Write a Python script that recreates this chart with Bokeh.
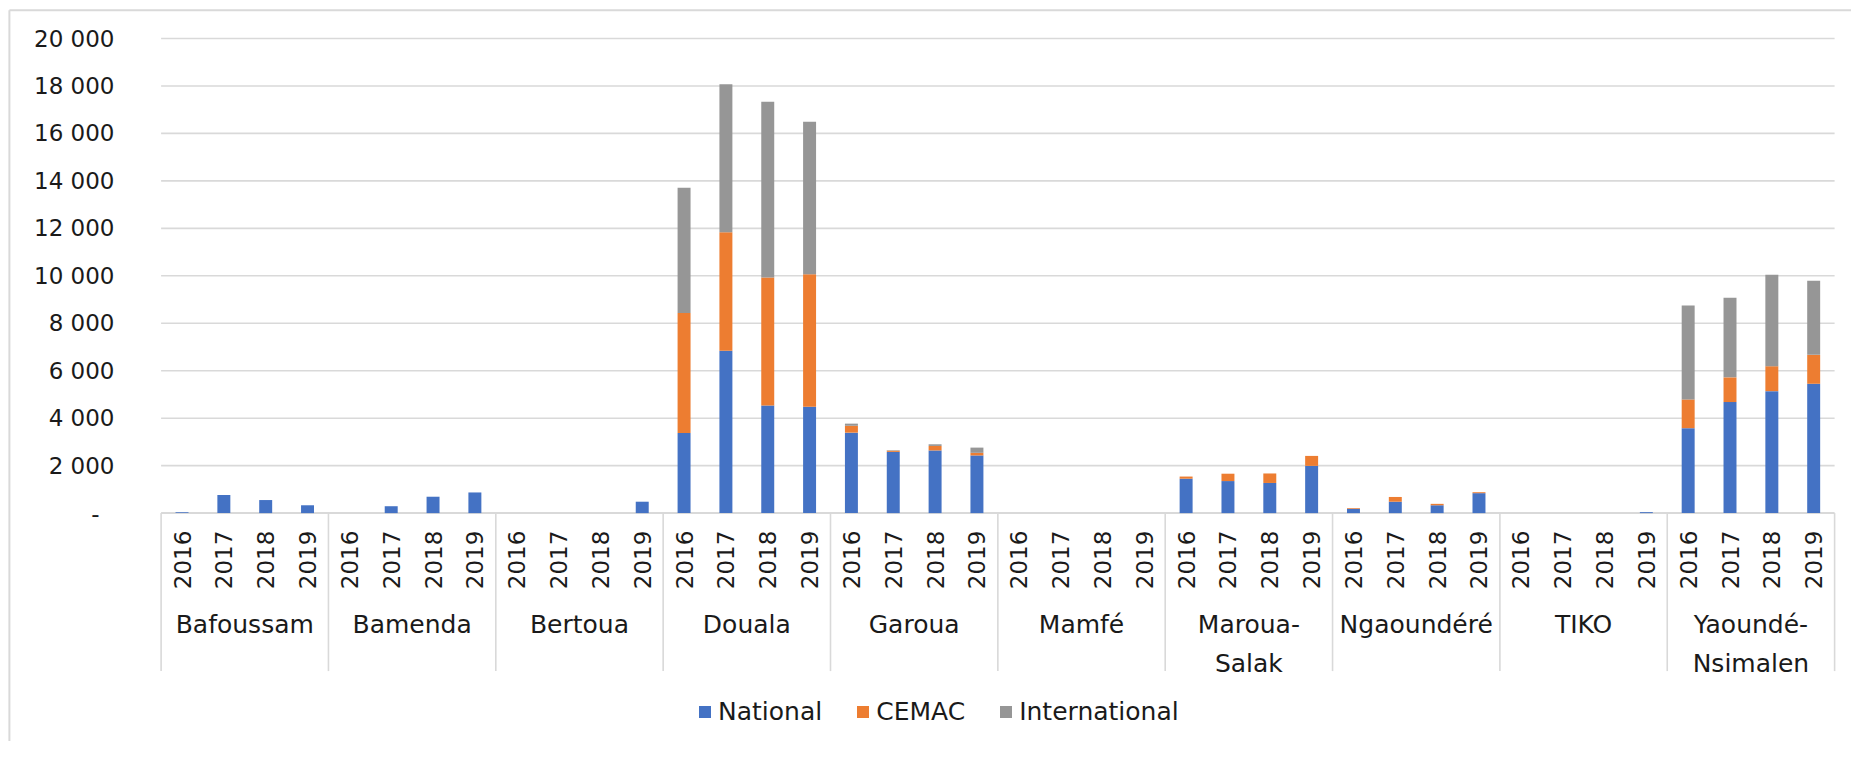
from bokeh.plotting import figure
from bokeh.models import Range1d, ColumnDataSource
from bokeh.core.properties import value
from bokeh.embed import file_html
from bokeh.resources import INLINE

# ---------------- data ----------------
cities = ["Bafoussam", "Bamenda", "Bertoua", "Douala", "Garoua", "Mamfé",
          "Maroua-\nSalak", "Ngaoundéré", "TIKO", "Yaoundé-\nNsimalen"]
years = ["2016", "2017", "2018", "2019"]

national = [40, 760, 550, 330,
            0, 290, 690, 870,
            0, 0, 0, 480,
            3380, 6840, 4530, 4480,
            3390, 2580, 2640, 2430,
            0, 0, 0, 0,
            1450, 1350, 1270, 1990,
            180, 480, 330, 840,
            0, 0, 0, 40,
            3580, 4680, 5140, 5450]
cemac = [0, 0, 0, 0,
         0, 0, 0, 0,
         0, 0, 0, 0,
         5050, 5000, 5400, 5590,
         290, 50, 190, 110,
         0, 0, 0, 0,
         90, 310, 400, 420,
         30, 200, 60, 40,
         0, 0, 0, 0,
         1210, 1040, 1050, 1220]
international = [0, 0, 0, 0,
                 0, 0, 0, 0,
                 0, 0, 0, 0,
                 5280, 6230, 7400, 6420,
                 90, 20, 70, 220,
                 0, 0, 0, 0,
                 0, 0, 0, 0,
                 0, 0, 0, 0,
                 0, 0, 0, 0,
                 3960, 3360, 3850, 3120]
series_names = ["National", "CEMAC", "International"]
y_ticks = [0, 2000, 4000, 6000, 8000, 10000, 12000, 14000, 16000, 18000, 20000]
y_tick_labels = ["-", "2 000", "4 000", "6 000", "8 000", "10 000", "12 000",
                 "14 000", "16 000", "18 000", "20 000"]

# ---------------- layout ----------------
W, H = 1851, 741
FONT = value("DejaVu Sans")
TXT = "#1a1a1a"
GRID = "#d9d9d9"
COLORS = ["#4472C4", "#ED7D31", "#969696"]

n_years = len(years)
n_bars = len(cities) * n_years
y_max = y_ticks[-1]

plot_top, plot_base = 38.0, 512.6        # canvas px of y_max and 0
frame_left, frame_right = 160.6, 1834.1  # canvas px of category span
ppv = (plot_base - plot_top) / y_max
ppu = (frame_right - frame_left) / n_bars

y0_, y1_ = -(H - plot_base) / ppv, plot_base / ppv
x0_, x1_ = -frame_left / ppu, (W - frame_left) / ppu
y_range = Range1d(y0_, y1_)
x_range = Range1d(x0_, x1_)


def px_x(px):
    return x0_ + px / ppu


def px_y(py):
    return y1_ - py / ppv


p = figure(width=W, height=H, x_range=x_range, y_range=y_range,
           x_axis_location=None, y_axis_location=None,
           toolbar_location=None, output_backend="svg",
           min_border=0, min_border_left=0, min_border_right=0,
           min_border_top=0, min_border_bottom=0)
p.background_fill_color = "white"
p.border_fill_color = "white"
p.outline_line_color = None
p.xgrid.visible = False
p.ygrid.visible = False

# chart-area border (left and top edges visible in the crop)
p.segment(x0=[px_x(8.9), px_x(8.9)], y0=[px_y(9.8), px_y(9.8)],
          x1=[px_x(8.9), px_x(W + 5)], y1=[px_y(H + 5), px_y(9.8)],
          line_color=GRID, line_width=2)

# gridlines
grid_src = ColumnDataSource(dict(y=y_ticks[1:]))
p.segment(x0=0, x1=n_bars, y0="y", y1="y", source=grid_src,
          line_color=GRID, line_width=1.6)
# baseline
p.segment(x0=[0], x1=[n_bars], y0=[0], y1=[0], line_color=GRID, line_width=2)

# group separators
sep_len = 158 / ppv
sep_x = [i * n_years for i in range(len(cities) + 1)]
p.segment(x0=sep_x, x1=sep_x, y0=0, y1=-sep_len, line_color=GRID, line_width=1.6)

# bars
xs = [i + 0.5 for i in range(n_bars)]
src = ColumnDataSource(dict(x=xs, National=national, CEMAC=cemac,
                            International=international))
p.vbar_stack(series_names, x="x", width=0.31, color=COLORS, line_color=None,
             source=src, legend_label=series_names)

# y tick labels
ysrc = ColumnDataSource(dict(y=y_ticks, t=y_tick_labels,
                             xo=[-61.5] + [-46.6] * (len(y_ticks) - 1)))
p.text(x=0, y="y", text="t", x_offset="xo", source=ysrc, text_font=FONT,
       text_font_size="23px", text_color=TXT, text_align="right",
       text_baseline="middle")

# year labels
yr_src = ColumnDataSource(dict(x=xs, t=[years[i % n_years] for i in range(n_bars)]))
p.text(x="x", y=-17.6 / ppv, text="t", source=yr_src, angle=1.5707963,
       text_font=FONT, text_font_size="23px", text_color=TXT,
       text_align="right", text_baseline="middle")

# city labels
c_src = ColumnDataSource(dict(x=[i * n_years + n_years / 2 for i in range(len(cities))],
                              t=cities))
p.text(x="x", y=-97.2 / ppv, text="t", source=c_src, text_font=FONT,
       text_font_size="25px", text_color=TXT, text_align="center",
       text_baseline="top", text_line_height=1.33)

# legend
leg = p.legend[0]
leg.orientation = "horizontal"
leg.location = (697, 15)
leg.padding = 0
leg.margin = 0
leg.spacing = 33
leg.label_standoff = 6
leg.glyph_width = 15
leg.glyph_height = 15
leg.label_text_font = "DejaVu Sans"
leg.label_text_font_size = "25px"
leg.label_text_color = TXT
leg.border_line_color = None
leg.background_fill_alpha = 0

open("out.html", "w").write(file_html(p, INLINE))
